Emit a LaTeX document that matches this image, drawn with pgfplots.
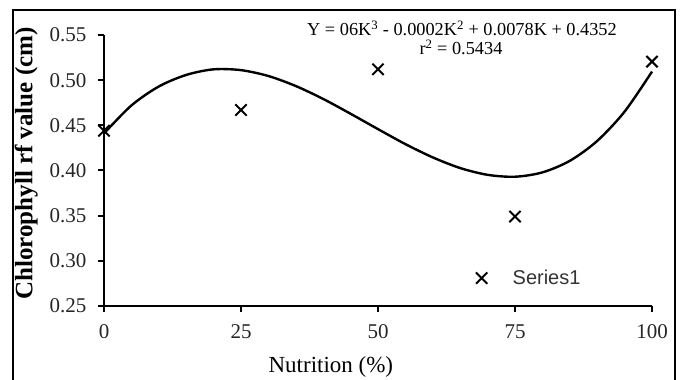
\documentclass[border=0pt]{standalone}
\usepackage{pgfplots}
\pgfplotsset{compat=1.18}
\usepackage{fontspec}
\setmainfont{Liberation Serif}
\newfontfamily\arial{Liberation Sans}
\begin{document}
\begin{tikzpicture}[x=1pt,y=1pt]
\useasboundingbox (0,0) rectangle (683,380);
% outer frame
\draw[line width=2pt] (13,-5) -- (13,370) -- (675,370) -- (675,-5);
\begin{axis}[
  at={(104pt,74pt)}, anchor=south west,
  scale only axis, width=548pt, height=271pt,
  xmin=0, xmax=100, ymin=0.25, ymax=0.55,
  axis lines=left, axis line style={-, line width=2pt, black},
  xtick={0,25,50,75,100},
  ytick={0.25,0.30,0.35,0.40,0.45,0.50,0.55},
  tick align=outside, major tick length=6pt,
  tick style={line width=2pt, black},
  /pgf/number format/assume math mode=true,
  yticklabel={\pgfmathprintnumber[fixed,fixed zerofill,precision=2]{\tick}\hspace*{8pt}},
  xticklabel style={yshift=-9pt},
  tick label style={font=\fontsize{21pt}{24pt}\selectfont, text=black!85},
  xlabel={Nutrition (\%)},
  xlabel style={at={(axis description cs:0.414,-0.247)}, anchor=base, font=\fontsize{23pt}{26pt}\selectfont},
  ylabel={Chlorophyll rf value (cm)},
  ylabel style={at={(axis description cs:-0.142,0.526)}, anchor=center, font=\fontsize{25pt}{28pt}\selectfont\bfseries},
  clip=false,
  legend style={at={(axis description cs:0.673,0.103)}, anchor=west, draw=none, fill=none,
    font=\arial\fontsize{20pt}{23pt}\selectfont, text=black!80},
  legend image code/.code={\draw[#1] plot coordinates {(0pt,0pt)}; \path[draw=none,fill=none] (0pt,0pt) -- (29pt,0pt);},
  legend cell align=left,
]
\addplot[only marks, mark=x, mark size=8pt, line width=2pt, black]
  coordinates {(0,0.444) (25,0.467) (50,0.512) (75,0.349) (100,0.5205)};
\addlegendentry{Series1}
\addplot[smooth, no marks, line width=2.4pt, black, forget plot]
  coordinates {
  (0,0.441) (5,0.472) (10,0.493) (15,0.5058) (20,0.5120) (25,0.5111)
  (30,0.5046) (35,0.4935) (40,0.4792) (45,0.4628) (50,0.4458)
  (55,0.4292) (60,0.4145) (65,0.4027) (70,0.3952) (75,0.3931)
  (80,0.3979) (85,0.4107) (90,0.4327) (95,0.4652) (100,0.5095)};
\end{axis}
\node[anchor=base, font=\fontsize{18.3pt}{21pt}\selectfont] at (462,380-36)
  {Y = 06K\textsuperscript{3} - 0.0002K\textsuperscript{2} + 0.0078K + 0.4352};
\node[anchor=base, font=\fontsize{18.3pt}{21pt}\selectfont] at (461,380-55)
  {r\textsuperscript{2} = 0.5434};
\end{tikzpicture}
\end{document}
